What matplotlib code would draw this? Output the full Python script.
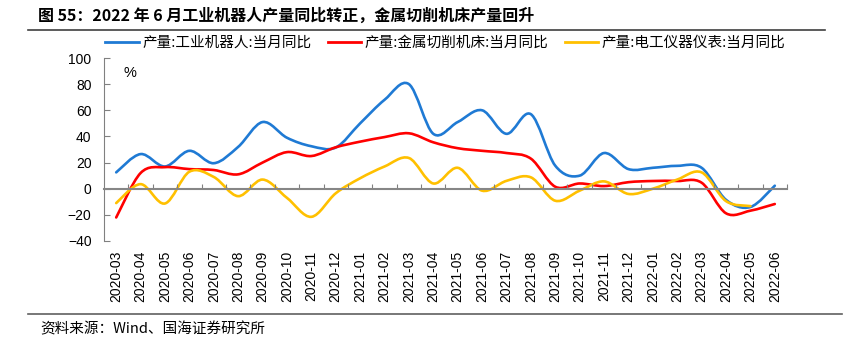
import numpy as np
import matplotlib
matplotlib.use("Agg")
import matplotlib.pyplot as plt
from matplotlib.path import Path
from matplotlib.patches import PathPatch
from matplotlib.lines import Line2D
from matplotlib import transforms

plt.rcParams['font.family'] = ['Liberation Sans', 'Noto Sans CJK SC']

# 数据（当月同比，%）
months = ['2020-03', '2020-04', '2020-05', '2020-06', '2020-07', '2020-08', '2020-09',
          '2020-10', '2020-11', '2020-12', '2021-01', '2021-02', '2021-03', '2021-04',
          '2021-05', '2021-06', '2021-07', '2021-08', '2021-09', '2021-10', '2021-11',
          '2021-12', '2022-01', '2022-02', '2022-03', '2022-04', '2022-05', '2022-06']
robot = [12.5, 26.5, 17, 29, 19.5, 32, 51, 39, 32.5, 31.5, 50, 68, 80, 42,
         51, 60, 42, 57, 17.6, 10, 27.3, 15, 16, 17.5, 16, -8.5, -14, 2.3]
machine_tool = [-22, 12, 16.5, 15, 14.3, 11, 20, 28, 25, 31.7, 36, 39.5, 42.4, 35.5,
                31, 29, 27.3, 23, 1.5, 4, 2, 5, 5.9, 5.9, 4.6, -18.8, -16.8, -11.7]
instrument = [-11, 3.5, -11.3, 13, 9, -5.7, 7, -7, -21.5, -3.5, 8, 17, 23.5, 4,
              16, -1.5, 6, 8.7, -9.2, -1.5, 5.6, -4, 0, 7, 12.5, -9.5, -13.3]

labels = ['产量:工业机器人:当月同比', '产量:金属切削机床:当月同比', '产量:电工仪器仪表:当月同比']
colors = ['#1F7AD4', '#FF0000', '#FFC000']
title = '图 55：2022 年 6 月工业机器人产量同比转正，金属切削机床产量回升'
source = '资料来源：Wind、国海证券研究所'


def smooth_path(ys):
    # 类似 Excel 平滑线：经过每个数据点的三次贝塞尔曲线
    pts = np.column_stack([np.arange(len(ys)), ys]).astype(float)
    verts = [pts[0]]
    codes = [Path.MOVETO]
    n = len(pts)
    for i in range(n - 1):
        p0 = pts[max(i - 1, 0)]
        p1 = pts[i]
        p2 = pts[i + 1]
        p3 = pts[min(i + 2, n - 1)]
        verts += [p1 + (p2 - p0) / 6, p2 - (p3 - p1) / 6, p2]
        codes += [Path.CURVE4] * 3
    return Path(verts, codes)


fig = plt.figure(figsize=(8.45, 3.41), dpi=100)
ax = fig.add_axes([104 / 845, 100 / 341, 683 / 845, 183 / 341])

for ys, c in zip([robot, machine_tool, instrument], colors):
    ax.add_patch(PathPatch(smooth_path(ys), facecolor='none', edgecolor=c, lw=1.9,
                           capstyle='round', joinstyle='round'))

ax.set_xlim(-0.5, len(months) - 0.5)
ax.set_ylim(-40, 100)
ax.set_yticks(range(-40, 101, 20))

ax.spines['top'].set_visible(False)
ax.spines['right'].set_visible(False)
ax.spines['left'].set_color('#808080')
ax.spines['left'].set_linewidth(0.8)
ax.spines['bottom'].set_position(('data', 0))
ax.spines['bottom'].set_color('#868686')
ax.spines['bottom'].set_linewidth(1.5)

ax.set_xticks(np.arange(0.5, len(months), 1))
ax.tick_params(axis='x', direction='in', length=3.5, color='#808080', labelbottom=False)
ax.tick_params(axis='y', direction='in', length=4, color='#808080', pad=9, labelsize=10)

trans = transforms.blended_transform_factory(ax.transData, ax.transAxes)
for i, m in enumerate(months):
    ax.annotate(m, xy=(i, 0), xycoords=trans, xytext=(0, -7), textcoords='offset points',
                rotation=90, ha='center', va='top', fontsize=10)

handles = [Line2D([], [], color=c, lw=2) for c in colors]
ax.legend(handles, labels, loc='center', bbox_to_anchor=(0.5, 1.082), ncol=3,
          frameon=False, handlelength=2.3, handletextpad=0.25, columnspacing=1.1,
          prop={'family': ['Noto Sans CJK SC'], 'size': 10.5})

fig.text(130 / 845, 1 - 73 / 341, '%', ha='center', va='center', fontsize=10.5)

fig.text(38 / 845, 1 - 15.5 / 341, title, ha='left', va='center', fontsize=11.5,
         fontweight='bold', family=['Noto Sans CJK SC'])
fig.add_artist(Line2D([28 / 845, 825 / 845], [1 - 30 / 341] * 2, color='#404040', lw=1.2))
fig.add_artist(Line2D([28 / 845, 842 / 845], [1 - 314 / 341] * 2, color='#606060', lw=1.2))
fig.text(40 / 845, 1 - 329 / 341, source, ha='left', va='center', fontsize=10.5,
         family=['Noto Sans CJK SC', 'Liberation Sans'])

fig.savefig('out.png', dpi=100)
